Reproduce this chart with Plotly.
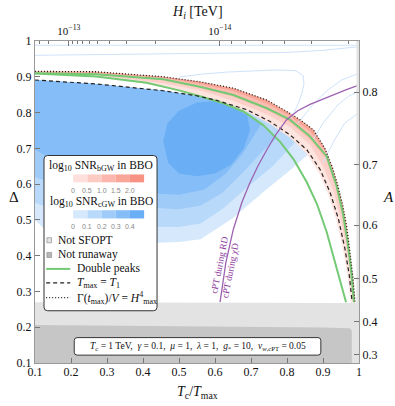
import plotly.graph_objects as go

# values (x = T_c/T_max, y = Delta)
DOTTED_X = [0.1, 0.27, 0.456, 0.558, 0.651, 0.744, 0.799, 0.836, 0.873, 0.905, 0.925, 0.94, 0.955, 0.966, 0.976, 0.983, 0.989]
DOTTED_Y = [0.915, 0.914, 0.9, 0.886, 0.868, 0.835, 0.803, 0.78, 0.752, 0.70, 0.65, 0.6, 0.54, 0.48, 0.40, 0.34, 0.27]

DASHED_X = [0.1, 0.27, 0.456, 0.549, 0.605, 0.688, 0.753, 0.808, 0.855, 0.892, 0.92, 0.943, 0.961, 0.973, 0.981]
DASHED_Y = [0.891, 0.88, 0.861, 0.847, 0.834, 0.808, 0.775, 0.738, 0.696, 0.641, 0.576, 0.502, 0.419, 0.345, 0.27]

GREEN_OUT_X = [0.1, 0.27, 0.456, 0.558, 0.651, 0.744, 0.808, 0.864, 0.91, 0.938, 0.955, 0.968, 0.978, 0.986]
GREEN_OUT_Y = [0.91, 0.907, 0.893, 0.872, 0.849, 0.812, 0.78, 0.733, 0.678, 0.594, 0.52, 0.44, 0.36, 0.27]

GREEN_IN_X = [0.1, 0.27, 0.41, 0.5, 0.568, 0.623, 0.679, 0.734, 0.781, 0.818, 0.855, 0.883, 0.91, 0.929, 0.947, 0.964]
GREEN_IN_Y = [0.909, 0.901, 0.883, 0.862, 0.843, 0.826, 0.803, 0.765, 0.718, 0.67, 0.605, 0.545, 0.467, 0.4, 0.335, 0.27]

CPT_X = [0.614, 0.63, 0.651, 0.675, 0.697, 0.72, 0.744, 0.77, 0.799, 0.83, 0.864, 0.9, 0.929, 0.965, 1.0]
CPT_Y = [0.27, 0.38, 0.474, 0.55, 0.604, 0.652, 0.696, 0.74, 0.78, 0.805, 0.823, 0.838, 0.85, 0.864, 0.877]

# SNR_bGW levels: lower edges of the bands hanging from the dotted curve
BGW_LOW = [
    ([0.1, 0.27, 0.456, 0.549, 0.605, 0.688, 0.753, 0.808, 0.855, 0.89, 0.915, 0.937, 0.955, 0.968, 0.977],
     [0.909, 0.903, 0.872, 0.848, 0.832, 0.803, 0.768, 0.73, 0.685, 0.63, 0.57, 0.5, 0.42, 0.345, 0.27]),
    ([0.1, 0.27, 0.456, 0.558, 0.651, 0.744, 0.808, 0.864, 0.9, 0.93, 0.95, 0.965, 0.975, 0.983],
     [0.91, 0.905, 0.882, 0.862, 0.833, 0.795, 0.76, 0.71, 0.65, 0.58, 0.5, 0.42, 0.345, 0.27]),
    ([0.1, 0.27, 0.456, 0.558, 0.651, 0.744, 0.808, 0.864, 0.91, 0.936, 0.954, 0.967, 0.977, 0.985],
     [0.911, 0.907, 0.891, 0.869, 0.845, 0.807, 0.773, 0.725, 0.668, 0.59, 0.51, 0.43, 0.35, 0.27]),
    ([0.1, 0.27, 0.456, 0.558, 0.651, 0.744, 0.808, 0.864, 0.91, 0.938, 0.956, 0.968, 0.979, 0.987],
     [0.913, 0.911, 0.897, 0.88, 0.86, 0.825, 0.79, 0.748, 0.688, 0.604, 0.53, 0.45, 0.37, 0.27]),
]
BGW_COLORS = ["#fde4df", "#fcd0c8", "#fbbcb1", "#f9a596"]

# SNR_cGW levels: lower edges of the bands under the dashed curve
CGW_LOW = [
    ([0.1, 0.13, 0.2, 0.3, 0.4, 0.5, 0.56, 0.65, 0.74, 0.81, 0.862],
     [0.5, 0.47, 0.445, 0.435, 0.435, 0.438, 0.446, 0.505, 0.583, 0.64, 0.686]),
    ([0.1, 0.2, 0.3, 0.4, 0.5, 0.56, 0.62, 0.7, 0.76, 0.825],
     [0.548, 0.51, 0.49, 0.48, 0.48, 0.49, 0.53, 0.6, 0.65, 0.72]),
    ([0.1, 0.2, 0.3, 0.4, 0.5, 0.56, 0.62, 0.68, 0.73, 0.77],
     [0.62, 0.585, 0.555, 0.535, 0.53, 0.54, 0.575, 0.635, 0.69, 0.728]),
    ([0.1, 0.2, 0.3, 0.4, 0.5, 0.57, 0.63, 0.68, 0.728],
     [0.696, 0.64, 0.6, 0.575, 0.57, 0.585, 0.63, 0.69, 0.768]),
]
CGW_COLORS = ["#d5e8fc", "#b9d9fa", "#9ecbf8", "#84bdf7", "#6aaff5"]
CGW_CORE_X = [0.456, 0.468, 0.5, 0.55, 0.6, 0.65, 0.69, 0.697, 0.68, 0.645, 0.6, 0.55, 0.5, 0.47, 0.456]
CGW_CORE_Y = [0.72, 0.77, 0.805, 0.828, 0.832, 0.814, 0.792, 0.75, 0.70, 0.655, 0.63, 0.622, 0.63, 0.66, 0.72]

# faint contour lines
FAINT = [
    ([0.1, 1.0], [0.988, 0.988]),
    ([0.1, 0.3, 0.5, 0.7, 0.8, 0.9, 1.0], [0.96, 0.962, 0.964, 0.966, 0.968, 0.974, 0.984]),
    ([0.5, 0.56, 0.63, 0.7, 0.77, 0.825, 0.845, 0.847, 0.842, 0.83, 0.812],
     [0.899, 0.907, 0.913, 0.917, 0.919, 0.917, 0.903, 0.88, 0.855, 0.822, 0.785]),
    ([0.83, 0.87, 0.91, 0.95, 1.0], [0.77, 0.82, 0.86, 0.89, 0.91]),
    ([0.87, 0.9, 0.94, 0.97, 1.0], [0.72, 0.77, 0.82, 0.845, 0.86]),
    ([0.9, 0.93, 0.96, 1.0], [0.66, 0.72, 0.77, 0.8]),
]

NOT_SFOPT_X = [0.1, 0.993, 0.993, 1.0, 1.0, 0.1]
NOT_SFOPT_Y = [0.27, 0.268, 1.0, 1.0, 0.1, 0.1]
NOT_RUNAWAY_X = [0.1, 0.5, 0.9, 0.975, 0.98, 0.98, 0.1]
NOT_RUNAWAY_Y = [0.206, 0.203, 0.199, 0.197, 0.19, 0.1, 0.1]

X_TICKS = [0.1, 0.2, 0.3, 0.4, 0.5, 0.6, 0.7, 0.8, 0.9, 1.0]
Y_TICKS = [0.1, 0.2, 0.3, 0.4, 0.5, 0.6, 0.7, 0.8, 0.9, 1.0]
A_LABELS = ["0.3", "0.4", "0.5", "0.6", "0.7", "0.8"]
A_AT_DELTA = [0.124, 0.216, 0.335, 0.485, 0.655, 0.857]
H_MAJOR = [1e-13, 1e-14]
H_LABELS = ["10<sup>\u221213</sup>", "10<sup>\u221214</sup>"]
H_MINOR = [3e-13, 2e-13] + [k * 1e-14 for k in range(9, 1, -1)] + [k * 1e-15 for k in range(9, 3, -1)]
T_AT_H13 = 0.194  # top axis: H_i ~ (T_c/T_max)^-2

BGW_BAR_LABELS = ["0", "0.5", "1.0", "1.5", "2.0"]
CGW_BAR_LABELS = ["0", "0.1", "0.2", "0.3", "0.4"]

SERIF = "Liberation Serif"


def h_to_x(h):
    return T_AT_H13 * (1e-13 / h) ** 0.5


def band(top_x, top_y, bot_x, bot_y):
    end = bot_x[-1]
    tx = [x for x in top_x if x < end]
    ty = top_y[:len(tx)]
    return tx + bot_x[::-1], ty + bot_y[::-1]


def rrect(x0, y0, x1, y1, r):
    return (f"M{x0+r},{y0} L{x1-r},{y0} Q{x1},{y0} {x1},{y0+r} L{x1},{y1-r} Q{x1},{y1} {x1-r},{y1} "
            f"L{x0+r},{y1} Q{x0},{y1} {x0},{y1-r} L{x0},{y0+r} Q{x0},{y0} {x0+r},{y0} Z")


def fill(x, y, color):
    return go.Scatter(x=x, y=y, fill="toself", fillcolor=color, mode="lines",
                      line=dict(width=0), hoverinfo="skip", showlegend=False)


def line(x, y, color, width=1.0, dash="solid"):
    return go.Scatter(x=x, y=y, mode="lines", line=dict(color=color, width=width, dash=dash),
                      hoverinfo="skip", showlegend=False)


fig = go.Figure()

# cGW filled contours
core_top_x = [x for x in DASHED_X if x < 0.56] + [x for x in GREEN_IN_X if x >= 0.56]
core_top_y = DASHED_Y[:len([x for x in DASHED_X if x < 0.56])] + [y for x, y in zip(GREEN_IN_X, GREEN_IN_Y) if x >= 0.56]
for i, (bx, by) in enumerate(CGW_LOW):
    if i < 2:
        px, py = band(DASHED_X, DASHED_Y, bx, by)
    else:
        px, py = band(core_top_x, core_top_y, bx, by)
    fig.add_trace(fill(px, py, CGW_COLORS[i]))
fig.add_trace(fill(CGW_CORE_X, CGW_CORE_Y, CGW_COLORS[4]))

# bGW filled contours
for (bx, by), c in zip(BGW_LOW, BGW_COLORS):
    fig.add_trace(fill(DOTTED_X + bx[::-1], DOTTED_Y + by[::-1], c))

for fx, fy in FAINT:
    fig.add_trace(line(fx, fy, "#cfe2fa", 1))

fig.add_trace(line(GREEN_IN_X, GREEN_IN_Y, "#74c974", 2))
fig.add_trace(line(GREEN_OUT_X, GREEN_OUT_Y, "#74c974", 2))
fig.add_trace(line(DASHED_X, DASHED_Y, "#222222", 1.2, "4px,3px"))
fig.add_trace(line(DOTTED_X, DOTTED_Y, "#222222", 1.3, "1px,2px"))
fig.add_trace(line(CPT_X, CPT_Y, "#9d62b0", 1.3))

fig.add_trace(fill(NOT_SFOPT_X, NOT_SFOPT_Y, "#e3e3e3"))
fig.add_trace(fill(NOT_RUNAWAY_X, NOT_RUNAWAY_Y, "#c6c6c6"))

# dummy trace for the top / right axes
fig.add_trace(go.Scatter(x=[None], y=[None], xaxis="x2", yaxis="y2", showlegend=False))

shapes = []
ann = []

# legend box
shapes.append(dict(type="path", path=rrect(0.125, 0.246, 0.439, 0.68, 0.01), xref="x", yref="y",
                   fillcolor="white", line=dict(color="#333333", width=1)))
bar_x0, cell_w = 0.1667, 0.0394
for bar_y0, bar_y1, colors, labels, lab_y, title_y, title in [
    (0.605, 0.627, ["#ffffff", "#fde0db", "#fccbc3", "#fbb7ad", "#f9a598", "#f89282"], BGW_BAR_LABELS, 0.582, 0.650,
     "log<sub>10</sub> SNR<sub>bGW</sub> in BBO"),
    (0.504, 0.527, ["#ffffff"] + CGW_COLORS, CGW_BAR_LABELS, 0.481, 0.549,
     "log<sub>10</sub> SNR<sub>cGW</sub> in BBO"),
]:
    for k, c in enumerate(colors):
        shapes.append(dict(type="rect", xref="x", yref="y", x0=bar_x0 + k * cell_w, x1=bar_x0 + (k + 1) * cell_w,
                           y0=bar_y0, y1=bar_y1, fillcolor=c, line=dict(width=0)))
    for k, lab in enumerate(labels):
        ann.append(dict(x=bar_x0 + (k + 1) * cell_w, y=lab_y, xref="x", yref="y", text=lab, showarrow=False,
                        font=dict(family="Liberation Sans", size=7, color="#888888")))
    ann.append(dict(x=0.2845, y=title_y, xref="x", yref="y", text=title, showarrow=False,
                    font=dict(family=SERIF, size=11.5, color="#111111")))

for yy, c, lab in [(0.443, "#e3e3e3", "Not SFOPT"), (0.402, "#b8b8b8", "Not runaway")]:
    shapes.append(dict(type="rect", xref="x", yref="y", x0=0.133, x1=0.146, y0=yy - 0.007, y1=yy + 0.007,
                       fillcolor=c, line=dict(color="#999999", width=0.8)))
    ann.append(dict(x=0.158, y=yy, xref="x", yref="y", text=lab, showarrow=False, xanchor="left",
                    font=dict(family=SERIF, size=11.5, color="#111111")))

for yy, c, w, d, lab in [
    (0.363, "#74c974", 2, "solid", "Double peaks"),
    (0.324, "#222222", 1.2, "4px,3px", "<i>T</i><sub>max</sub> = <i>T</i><sub>1</sub>"),
    (0.283, "#222222", 1.2, "1px,2px", "\u0393(<i>t</i><sub>max</sub>)/<i>V</i> = <i>H</i><sup>4</sup><sub>max</sub>"),
]:
    shapes.append(dict(type="line", xref="x", yref="y", x0=0.131, x1=0.198, y0=yy, y1=yy,
                       line=dict(color=c, width=w, dash=d)))
    ann.append(dict(x=0.21, y=yy, xref="x", yref="y", text=lab, showarrow=False, xanchor="left",
                    font=dict(family=SERIF, size=11.5, color="#111111")))

# parameter box
shapes.append(dict(type="path", path=rrect(0.209, 0.122, 0.894, 0.171, 0.008), xref="x", yref="y",
                   fillcolor="white", line=dict(color="#333333", width=1)))
ann.append(dict(x=0.5515, y=0.1465, xref="x", yref="y", showarrow=False,
                text="<i>T</i><sub>c</sub> = 1 TeV,  <i>\u03b3</i> = 0.1,  <i>\u03bc</i> = 1,  <i>\u03bb</i> = 1,  "
                     "<i>g</i><sub>*</sub> = 10,  <i>v</i><sub><i>w</i>,cPT</sub> = 0.05",
                font=dict(family=SERIF, size=9.5, color="#111111")))

# labels along the cPT line
ann.append(dict(x=0.612, y=0.375, xref="x", yref="y", text="cPT during RD", showarrow=False, textangle=-79,
                font=dict(family=SERIF, size=9.5, color="#8e3a9d")))
ann.append(dict(x=0.643, y=0.36, xref="x", yref="y", text="cPT during \u03c7D", showarrow=False, textangle=-79,
                font=dict(family=SERIF, size=9.5, color="#8e3a9d")))

# axis titles
for x, y, text, size in [
    (-0.065, 0.516, "\u0394", 15),
    (1.09, 0.516, "<i>A</i>", 15),
    (0.5, -0.093, "<i>T</i><sub>c</sub>/<i>T</i><sub>max</sub>", 14),
    (0.5, 1.088, "<i>H<sub>i</sub></i> [TeV]", 14),
]:
    ann.append(dict(x=x, y=y, xref="paper", yref="paper", text=text, showarrow=False,
                    xanchor="center", yanchor="middle", font=dict(family=SERIF, size=size, color="#111111")))

axis_common = dict(showgrid=False, zeroline=False, showline=True, linecolor="#999999", linewidth=1,
                   ticks="inside", tickcolor="#777777", ticklen=5, automargin=False,
                   tickfont=dict(family=SERIF, size=12, color="#111111"))

fig.update_layout(
    width=395, height=406,
    margin=dict(l=35, r=36, t=41, b=43),
    paper_bgcolor="white", plot_bgcolor="white",
    showlegend=False, hovermode=False,
    shapes=shapes, annotations=ann,
    xaxis=dict(range=[0.1, 1.0], tickmode="array", tickvals=X_TICKS,
               ticktext=[f"{v:g}" for v in X_TICKS], ticklabelstandoff=-2, **axis_common),
    yaxis=dict(range=[0.1, 1.0], tickmode="array", tickvals=Y_TICKS,
               ticktext=[f"{v:g}" for v in Y_TICKS], **axis_common),
    xaxis2=dict(range=[0.1, 1.0], overlaying="x", side="top", tickmode="array",
                tickvals=[h_to_x(h) for h in H_MAJOR], ticktext=H_LABELS,
                minor=dict(tickmode="array", tickvals=[h_to_x(h) for h in H_MINOR if 0.1 < h_to_x(h) < 1.0],
                           ticks="inside", ticklen=3, tickcolor="#777777"),
                ticklabelstandoff=1,
                **{**axis_common, "tickfont": dict(family=SERIF, size=11, color="#111111")}),
    yaxis2=dict(range=[0.1, 1.0], overlaying="y", side="right", tickmode="array",
                tickvals=A_AT_DELTA, ticktext=A_LABELS, **axis_common),
)

# drop the default page margin so the 395x406 figure fills the window exactly
fig.write_html("out.html", config={"displayModeBar": False},
               post_script="document.body.style.margin = '0';")
